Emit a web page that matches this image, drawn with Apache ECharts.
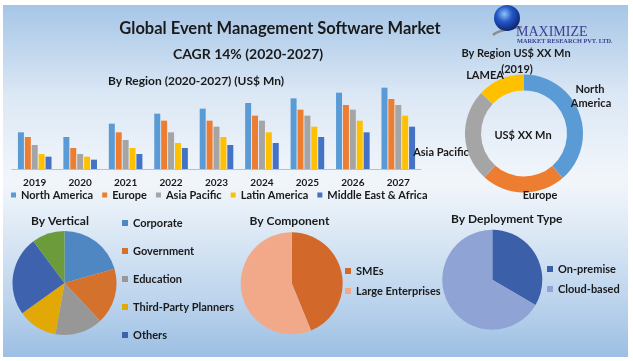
<!DOCTYPE html>
<html><head><meta charset="utf-8">
<script src="https://cdn.jsdelivr.net/npm/echarts@6/dist/echarts.min.js"></script>
<style>
html,body{margin:0;padding:0;background:#fff;}
#wrap{position:relative;width:633px;height:361px;background:#fff;overflow:hidden;}
#bg{position:absolute;left:3px;top:5px;width:625px;height:352px;
background:linear-gradient(to bottom,#a6c6e7 0%,#dce8f5 26%,#f2f6fb 50%,#e0ebf6 62%,#bcd4ed 84%,#9cbfe3 100%);}
#c{position:absolute;left:0;top:0;width:633px;height:361px;}
</style>
</head><body>
<div id="wrap"><div id="bg"></div><div id="c"></div></div>
<script>
// ---- data ----
const years = ['2019','2020','2021','2022','2023','2024','2025','2026','2027'];
const regionNames = ['North America','Europe','Asia Pacific','Latin America','Middle East & Africa'];
const northAmerica     = [110, 96,136,166,181,198,212,229,244];
const europe           = [ 96, 63,110,145,145,160,178,192,210];
const asiaPacific      = [ 72, 45, 87,110,127,145,160,178,192];
const latinAmerica     = [ 45, 37, 63, 78, 96,110,127,145,160];
const middleEastAfrica = [ 37, 28, 45, 63, 72, 78, 96,110,127];

const share2019Names = ['North America','Europe','Asia Pacific','LAMEA'];
const share2019      = [38.6, 23.1, 25.3, 13.0];

const verticalNames  = ['Corporate','Government','Education','Third-Party Planners','Others','Other Verticals'];
const verticalShares = [20.6, 17.4, 14.8, 12.3, 24.7, 10.2];
const verticalLegend = ['Corporate','Government','Education','Third-Party Planners','Others'];

const componentNames  = ['SMEs','Large Enterprises'];
const componentShares = [43.8, 56.2];

const deploymentNames  = ['On-premise','Cloud-based'];
const deploymentShares = [33.4, 66.6];

// ---- styles ----
const F = 'Lato, "Open Sans", sans-serif';
const TXT = '#1a1a1a';
const regionColors = ['#5b9bd5','#ed7d31','#a5a5a5','#ffc000','#4472c4'];
const donutColors = ['#5b9bd5','#ed7d31','#a5a5a5','#ffc000'];
const verticalColors = ['#4e87c2','#d4712d','#979797','#e2a906','#3e62ad','#6b9b3a'];
const componentColors = ['#d2692b','#f2a98a'];
const deploymentColors = ['#3c5fa9','#8fa3d5'];

const regionSeries = [northAmerica, europe, asiaPacific, latinAmerica, middleEastAfrica];

function toPie(names, vals){ return names.map((n,i)=>({name:n, value:vals[i]})); }

function txt(text, x, y, size, extra){
  return Object.assign({type:'text', x:x, y:y, z:10,
    style:{text:text, font:'bold '+size+'px '+F, fill:TXT, align:'center', verticalAlign:'middle'}}, extra||{});
}

const chart = echarts.init(document.getElementById('c'), null, {renderer:'canvas'});

const pieCommon = {type:'pie', label:{show:false}, labelLine:{show:false}, emphasis:{disabled:true},
  startAngle:90, clockwise:true, silent:true, animation:false};

const legendText = {fontFamily:F, fontWeight:'bold', fontSize:11, color:TXT, lineHeight:14};

chart.setOption({
  animation:false,
  grid:{left:12, width:409, top:69, height:100, containLabel:false},
  xAxis:{type:'category', data:years,
    axisLine:{lineStyle:{color:'#bfbfbf', width:1}}, axisTick:{show:false},
    axisLabel:{fontFamily:F, fontWeight:'bold', fontSize:10, color:TXT, margin:9}},
  yAxis:{type:'value', min:0, max:300, show:false, splitLine:{show:false}},
  legend:[
    {data:regionNames, left:11, top:188, itemWidth:5, itemHeight:5, itemGap:9, icon:'rect',
      textStyle:legendText, selectedMode:false, padding:0},
    {data:verticalLegend, orient:'vertical', left:122, top:216, itemWidth:6, itemHeight:6, itemGap:14, icon:'rect',
      textStyle:legendText, selectedMode:false, padding:0},
    {data:componentNames, orient:'vertical', left:345, top:264, itemWidth:6, itemHeight:6, itemGap:6, icon:'rect',
      textStyle:legendText, selectedMode:false, padding:0},
    {data:deploymentNames, orient:'vertical', left:547, top:262, itemWidth:6, itemHeight:6, itemGap:6, icon:'rect',
      textStyle:legendText, selectedMode:false, padding:0}
  ],
  series:[
    ...regionNames.map((n,i)=>({type:'bar', name:n, data:regionSeries[i], barWidth:6, barGap:'15%',
      itemStyle:{color:regionColors[i]}, silent:true})),
    Object.assign({}, pieCommon, {name:'By Region 2019', center:[524,133.5], radius:[43,59],
      data:toPie(share2019Names, share2019), color:donutColors}),
    Object.assign({}, pieCommon, {name:'By Vertical', center:[64.5,283], radius:52,
      data:toPie(verticalNames, verticalShares), color:verticalColors}),
    Object.assign({}, pieCommon, {name:'By Component', center:[291.7,283.3], radius:51,
      data:toPie(componentNames, componentShares), color:componentColors}),
    Object.assign({}, pieCommon, {name:'By Deployment Type', center:[492.3,279.7], radius:50,
      data:toPie(deploymentNames, deploymentShares), color:deploymentColors})
  ],
  graphic:[
    txt('Global Event Management Software Market', 280, 29, 16.5),
    txt('CAGR 14% (2020-2027)', 248, 54, 14),
    txt('By Region (2020-2027) (US$ Mn)', 196, 81, 12),
    txt('By Region US$ XX Mn', 516, 53, 11),
    txt('(2019)', 517, 69, 11),
    txt('LAMEA', 485, 75, 11),
    txt('North', 590, 89, 11),
    txt('America', 591, 103, 11),
    txt('Asia Pacific', 441, 152, 11),
    txt('Europe', 540, 195, 11),
    txt('US$ XX Mn', 523, 135, 11),
    txt('By Vertical', 60, 221, 12),
    txt('By Component', 289.5, 221, 12),
    txt('By Deployment Type', 506.7, 219.3, 12),
    // logo
    {type:'bezierCurve', z:9, shape:{x1:493, y1:35, x2:522, y2:27, cpx1:500, cpy1:29},
      style:{stroke:'#8c8c8c', lineWidth:2.5, fill:null}},
    {type:'circle', z:10, shape:{cx:507, cy:18, r:13},
      style:{fill:{type:'radial', x:0.4, y:0.35, r:0.75, colorStops:[
        {offset:0, color:'#8fc2f5'},{offset:0.4, color:'#2458c8'},{offset:1, color:'#081a5e'}]}}},
    {type:'text', x:516, y:32, z:11, style:{text:'MAXIMIZE', font:'14px "Liberation Serif", serif',
      fill:'#3d3f92', align:'left', verticalAlign:'middle'}},
    {type:'text', x:517, y:41, z:11, style:{text:'MARKET RESEARCH PVT. LTD.', font:'bold 6.3px "Liberation Serif", serif',
      fill:'#3d3f92', align:'left', verticalAlign:'middle'}}
  ]
});
</script>
</body></html>
